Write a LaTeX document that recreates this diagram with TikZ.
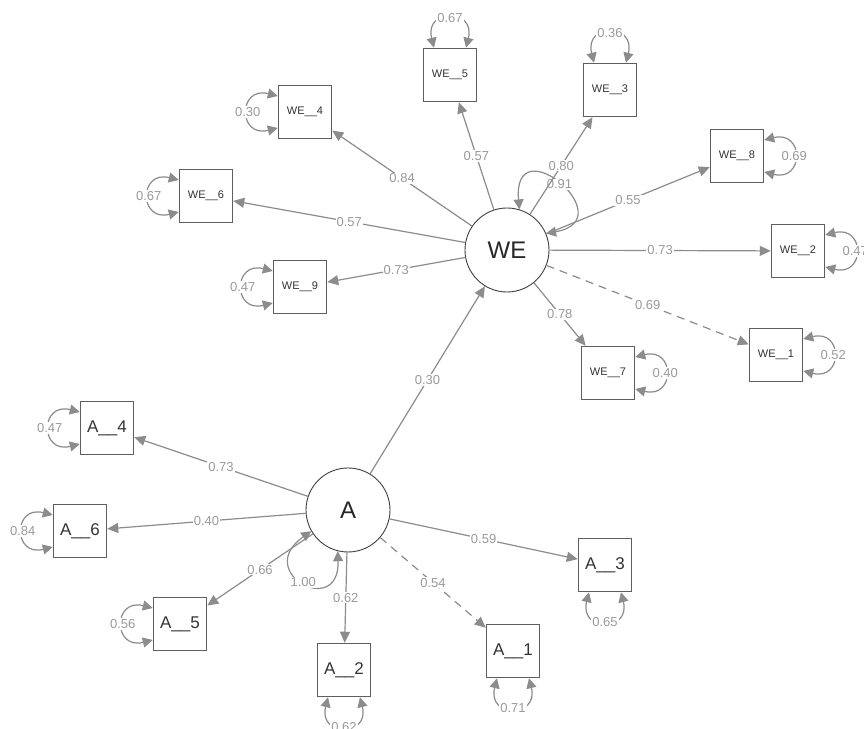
\documentclass[tikz,border=0pt]{standalone}
\usepackage{fontspec}
\setmainfont{Liberation Sans}
\usetikzlibrary{arrows.meta}

\definecolor{edgegray}{HTML}{8C8C8C}
\definecolor{lblgray}{HTML}{9A9A9A}
\definecolor{boxgray}{HTML}{5E5E5E}
\definecolor{txtdark}{HTML}{333333}

\tikzset{
  manifest/.style={rectangle, draw=boxgray, line width=1.5pt, minimum width=53pt,
    minimum height=53pt, inner sep=0pt, fill=white, text=txtdark},
  wefont/.style={font=\fontsize{11}{11}\selectfont},
  afont/.style={font=\fontsize{17}{17}\selectfont},
  latent/.style={circle, draw=black!75, line width=0.9pt, minimum size=84pt,
    inner sep=0pt, fill=white, text=black!85, font=\fontsize{24}{24}\selectfont},
  load/.style={draw=edgegray, line width=1.2pt, -{Triangle[length=11pt,width=10pt]}},
  dashload/.style={load, dash pattern=on 8pt off 6pt},
  varloop/.style={draw=edgegray, line width=1.2pt,
    {Triangle[length=10pt,width=10pt]}-{Triangle[length=10pt,width=10pt]}},
  lbl/.style={fill=white, text=lblgray, inner sep=1pt, font=\fontsize{13}{13}\selectfont},
}

% residual variance loops on each side of a box
\newcommand\vartop[2]{\draw[varloop] ([xshift=-16pt]#1.north) .. controls +(-10,40) and +(10,40) .. node[lbl,midway]{#2} ([xshift=16pt]#1.north);}
\newcommand\varbottom[2]{\draw[varloop] ([xshift=-16pt]#1.south) .. controls +(-10,-40) and +(10,-40) .. node[lbl,midway]{#2} ([xshift=16pt]#1.south);}
\newcommand\varleft[2]{\draw[varloop] ([yshift=16pt]#1.west) .. controls +(-40,10) and +(-40,-10) .. node[lbl,midway]{#2} ([yshift=-16pt]#1.west);}
\newcommand\varright[2]{\draw[varloop] ([yshift=16pt]#1.east) .. controls +(40,10) and +(40,-10) .. node[lbl,midway]{#2} ([yshift=-16pt]#1.east);}

\begin{document}
\begin{tikzpicture}[x=1pt,y=1pt]
\useasboundingbox[fill=white] (0,0) rectangle (864,728);

% latent variables
\node[latent] (WE) at (507,478) {WE};
\node[latent] (A)  at (348,218) {A};

% indicators of WE
\node[manifest,wefont] (WE5) at (450,653) {WE\_\_5};
\node[manifest,wefont] (WE3) at (610,638) {WE\_\_3};
\node[manifest,wefont] (WE4) at (305,616) {WE\_\_4};
\node[manifest,wefont] (WE6) at (206,532) {WE\_\_6};
\node[manifest,wefont] (WE9) at (300,441) {WE\_\_9};
\node[manifest,wefont] (WE8) at (737,572) {WE\_\_8};
\node[manifest,wefont] (WE2) at (798,477) {WE\_\_2};
\node[manifest,wefont] (WE1) at (776,373) {WE\_\_1};
\node[manifest,wefont] (WE7) at (608,355) {WE\_\_7};

% indicators of A
\node[manifest,afont] (A4) at (107,300) {A\_\_4};
\node[manifest,afont] (A6) at (80,197)  {A\_\_6};
\node[manifest,afont] (A5) at (180,104) {A\_\_5};
\node[manifest,afont] (A2) at (344,58)  {A\_\_2};
\node[manifest,afont] (A3) at (605,163) {A\_\_3};
\node[manifest,afont] (A1) at (513,77)  {A\_\_1};

% loadings of WE
\draw[load] (WE) -- node[lbl,midway]{0.84} (WE4);
\draw[load] (WE) -- node[lbl,midway]{0.57} (WE5);
\draw[load] (WE) -- node[lbl,midway]{0.57} (WE6);
\draw[load] (WE) -- node[lbl,midway]{0.73} (WE9);
\draw[load] (WE) -- node[lbl,midway]{0.55} (WE8);
\draw[load] (WE) -- node[lbl,midway]{0.73} (WE2);
\draw[load] (WE) -- node[lbl,midway]{0.78} (WE7);
\draw[dashload] (WE) -- node[lbl,midway]{0.69} (WE1);

% variance of WE
\draw[varloop] (WE.73) .. controls +(95:85) and +(10:80) .. node[lbl,midway]{0.91} (WE.23);
\draw[load] (WE) -- node[lbl,midway]{0.80} (WE3);

% structural path
\draw[load] (A) -- node[lbl,midway]{0.30} (WE);

% loadings of A
\draw[load] (A) -- node[lbl,midway]{0.73} (A4);
\draw[load] (A) -- node[lbl,midway]{0.40} (A6);
\draw[load] (A) -- node[lbl,midway]{0.66} (A5);
\draw[load] (A) -- node[lbl,midway]{0.62} (A2);
\draw[load] (A) -- node[lbl,midway]{0.59} (A3);
\draw[dashload] (A) -- node[lbl,midway]{0.54} (A1);

% variance of A
\draw[varloop] (A.210) .. controls +(215:72) and +(272:68) .. node[lbl,midway]{1.00} (A.256);

% residual variances
\vartop{WE5}{0.67}
\vartop{WE3}{0.36}
\varleft{WE4}{0.30}
\varleft{WE6}{0.67}
\varleft{WE9}{0.47}
\varright{WE8}{0.69}
\varright{WE2}{0.47}
\varright{WE1}{0.52}
\varright{WE7}{0.40}
\varleft{A4}{0.47}
\varleft{A6}{0.84}
\varleft{A5}{0.56}
\varbottom{A2}{0.62}
\varbottom{A3}{0.65}
\varbottom{A1}{0.71}
\end{tikzpicture}
\end{document}
